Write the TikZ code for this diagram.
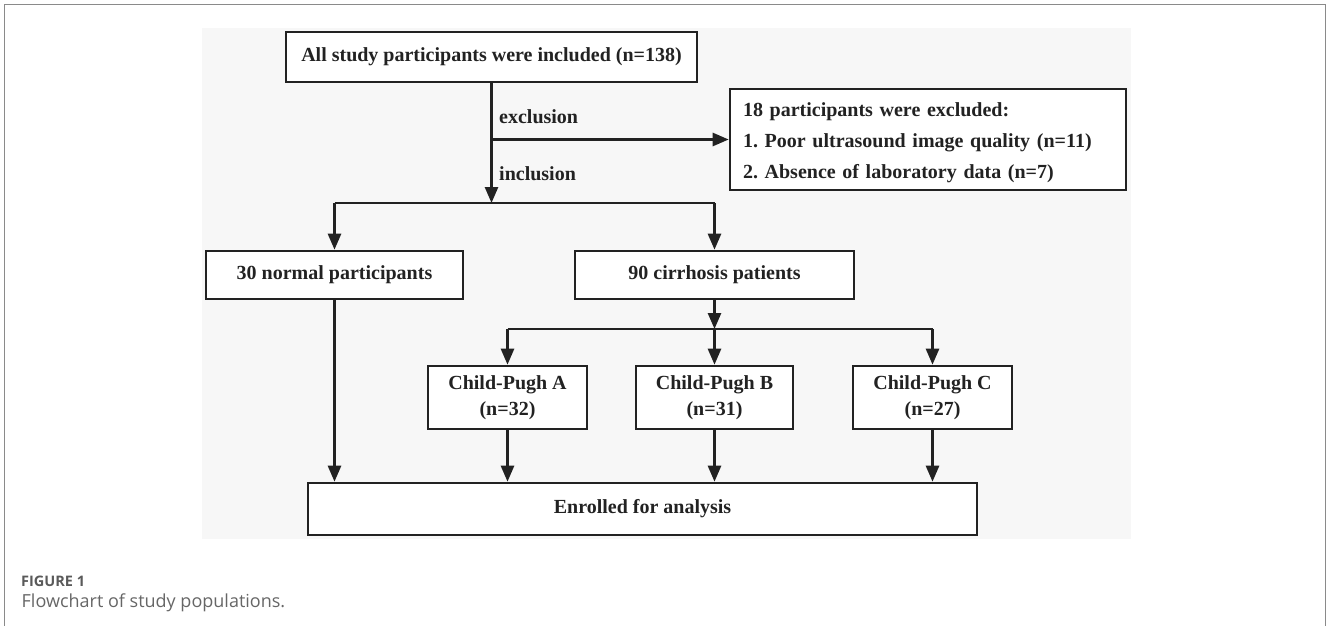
\documentclass[tikz,border=0pt]{standalone}
\usepackage{fontspec}
\setmainfont{Liberation Serif}
\newfontfamily\capfont{Open Sans}
\usetikzlibrary{arrows.meta}
\definecolor{panel}{HTML}{F7F7F7}
\definecolor{ink}{HTML}{222222}
\definecolor{frame}{HTML}{8A8A8A}
\definecolor{captxt}{HTML}{5A5A5A}
\definecolor{captxtb}{HTML}{666666}
\frenchspacing
\tikzset{
  box/.style={draw=ink, line width=2.6pt, fill=white, inner sep=0pt,
    font=\fontsize{20}{26}\selectfont\bfseries, text=ink, align=center},
  lbl/.style={inner sep=0pt, anchor=west, font=\fontsize{20}{24}\selectfont\bfseries, text=ink},
  conn/.style={draw=ink, line width=2.6pt},
  arr/.style={conn, -{Triangle[length=16pt,width=13pt]}},
}
\begin{document}
\begin{tikzpicture}[x=1pt,y=-1pt]
\useasboundingbox (0,0) rectangle (1328,626);
% outer frame
\draw[frame, line width=1pt] (4.5,640) -- (4.5,4.5) -- (1325.5,4.5) -- (1325.5,640);
% grey panel
\fill[panel] (202,28) rectangle (1131,539);
% nodes
\node[box, minimum width=411pt, minimum height=50pt] (top) at (491.5,57) {All study participants were included (n=138)};
\node[box, minimum width=396pt, minimum height=101pt, align=left, text width=370pt,
  font=\fontsize{20}{31}\selectfont\bfseries] (excl) at (928,139.5)
  {\rule{0pt}{20pt}18 participants were excluded:\\1. Poor ultrasound image quality (n=11)\\2. Absence of laboratory data (n=7)};
\node[box, minimum width=257pt, minimum height=48pt] (normal) at (334.5,275) {30 normal participants};
\node[box, minimum width=279pt, minimum height=48pt] (cirr) at (714.5,275) {90 cirrhosis patients};
\node[box, minimum width=159pt, minimum height=63pt] (cpa) at (507.5,397.5) {Child-Pugh A\\(n=32)};
\node[box, minimum width=157pt, minimum height=63pt] (cpb) at (714.5,397.5) {Child-Pugh B\\(n=31)};
\node[box, minimum width=159pt, minimum height=63pt] (cpc) at (932.5,397.5) {Child-Pugh C\\(n=27)};
\node[box, minimum width=669pt, minimum height=52pt] (enr) at (642.5,509) {Enrolled for analysis};
% labels
\node[lbl] (exlab) at (499,117) {exclusion};
\node[lbl] (inlab) at (499,174) {inclusion};
% junctions
\coordinate (j1) at (491.5,203);
\coordinate (j2) at (714.5,329);
% connectors
\draw[arr] (top.south) -- (j1);
\draw[arr] (top.south |- excl.west) -- (excl.west);
\draw[conn] (normal.north |- j1) -- (cirr.north |- j1);
\draw[arr] (normal.north |- j1) -- (normal.north);
\draw[arr] (cirr.north |- j1) -- (cirr.north);
\draw[arr] (cirr.south) -- (j2);
\draw[conn] (cpa.north |- j2) -- (cpc.north |- j2);
\draw[arr] (cpa.north |- j2) -- (cpa.north);
\draw[arr] (j2) -- (cpb.north);
\draw[arr] (cpc.north |- j2) -- (cpc.north);
\draw[arr] (normal.south) -- (normal.south |- enr.north);
\draw[arr] (cpa.south) -- (cpa.south |- enr.north);
\draw[arr] (cpb.south) -- (cpb.south |- enr.north);
\draw[arr] (cpc.south) -- (cpc.south |- enr.north);
% caption
\node[inner sep=0pt, anchor=base west, text=captxt, font=\capfont\fontsize{14.5}{16}\selectfont\bfseries] (fig) at (21,586) {FIGURE 1};
\node[inner sep=0pt, anchor=base west, text=captxtb, font=\capfont\fontsize{18}{20}\selectfont] (cap) at (21.5,607) {Flowchart of study populations.};
\end{tikzpicture}
\end{document}
